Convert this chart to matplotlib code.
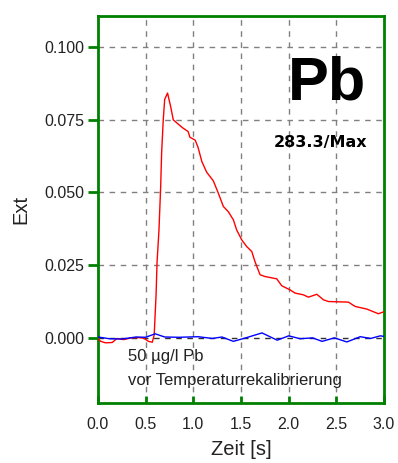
import numpy as np
import matplotlib
matplotlib.use('Agg')
import matplotlib.pyplot as plt

plt.rcParams['font.family'] = ['Liberation Sans', 'DejaVu Sans']

# Red trace: Pb signal
red_t = [0.00, 0.03, 0.08, 0.15, 0.20, 0.27, 0.35, 0.42, 0.48, 0.53, 0.57,
         0.59, 0.61, 0.62, 0.64, 0.658, 0.668, 0.685, 0.70, 0.73, 0.763,
         0.79, 0.825, 0.89, 0.945, 0.965, 1.02, 1.05, 1.09, 1.14, 1.21,
         1.262, 1.315, 1.367, 1.42, 1.455, 1.508, 1.56, 1.613, 1.647, 1.70,
         1.752, 1.875, 1.928, 2.015, 2.067, 2.155, 2.207, 2.295, 2.364,
         2.417, 2.626, 2.697, 2.82, 2.94, 3.00]
red_v = [-0.0003, -0.0012, -0.0017, -0.0016, -0.0002, -0.0006, 0.0000, 0.0001,
         -0.0001, -0.0012, -0.0015, 0.0010, 0.0150, 0.0260, 0.0370, 0.0520,
         0.0636, 0.0750, 0.0820, 0.0842, 0.0795, 0.0750, 0.0740, 0.0722,
         0.0710, 0.0690, 0.0680, 0.0655, 0.0606, 0.0570, 0.0540, 0.0498,
         0.0452, 0.0434, 0.0406, 0.0371, 0.0337, 0.0314, 0.0297, 0.0262,
         0.0217, 0.0211, 0.0203, 0.0179, 0.0165, 0.0154, 0.0148, 0.0140,
         0.0150, 0.0131, 0.0125, 0.0123, 0.0108, 0.0099, 0.0083, 0.0090]

# Blue trace: blank
blue_t = [0.00, 0.12, 0.25, 0.40, 0.50, 0.60, 0.70, 0.85, 1.05, 1.20, 1.30,
          1.42, 1.55, 1.72, 1.88, 2.00, 2.12, 2.25, 2.35, 2.48, 2.61, 2.75,
          2.86, 2.96, 3.00]
blue_v = [0.0003, -0.0003, -0.0004, 0.0003, 0.0002, 0.0014, 0.0003, 0.0002,
          0.0004, -0.0002, 0.0003, -0.0012, 0.0000, 0.0017, -0.0008, 0.0007,
          -0.0003, 0.0000, -0.0012, 0.0000, -0.0014, 0.0004, -0.0002, 0.0007,
          0.0005]

x_ticks = [0.0, 0.5, 1.0, 1.5, 2.0, 2.5, 3.0]
y_ticks = [0.000, 0.025, 0.050, 0.075, 0.100]

fig = plt.figure(figsize=(3.98, 4.63), dpi=100)
ax = fig.add_axes([0.246, 0.1296, 0.719, 0.8358])

ax.set_xlim(0, 3.0)
ax.set_ylim(-0.0224, 0.1107)

# grid
for xv in x_ticks[1:-1]:
    ax.axvline(xv, color='#808080', lw=1, ls=(0, (4, 4)), zorder=1)
for yv in y_ticks[1:]:
    ax.axhline(yv, color='#808080', lw=1, ls=(0, (4, 4)), zorder=1)
ax.axhline(0, color='#303030', lw=1, ls=(0, (4, 4)), zorder=1)

ax.plot(red_t, red_v, color='#ff0000', lw=1, zorder=3)
ax.plot(blue_t, blue_v, color='#0000ff', lw=1, zorder=3)

for s in ax.spines.values():
    s.set_color('#008000')
    s.set_linewidth(2)

ax.set_xticks(x_ticks)
ax.set_xticklabels([f'{v:.1f}' for v in x_ticks])
ax.set_yticks(y_ticks)
ax.set_yticklabels([f'{v:.3f}' for v in y_ticks])
ax.tick_params(axis='y', direction='out', length=7, width=2, color='#008000',
               labelsize=11.5, labelcolor='#222222', pad=3)
ax.tick_params(axis='x', direction='in', length=5, width=2, color='#008000',
               labelsize=11.5, labelcolor='#222222', pad=10)

ax.set_xlabel('Zeit [s]', fontsize=14.5, color='#222222', labelpad=6)
ax.set_ylabel('Ext', fontsize=14.5, color='#222222', labelpad=10)

ax.text(0.936, 0.825, 'Pb', transform=ax.transAxes, fontsize=44,
        fontweight='bold', ha='right', va='center', color='black')
ax.text(0.94, 0.672, '283.3/Max', transform=ax.transAxes, fontsize=11.5,
        fontweight='bold', ha='right', va='center', color='black',
        family='DejaVu Sans')
ax.text(0.105, 0.119, '50 µg/l Pb', transform=ax.transAxes, fontsize=12,
        ha='left', va='center', color='#222222')
ax.text(0.105, 0.059, 'vor Temperaturrekalibrierung', transform=ax.transAxes,
        fontsize=12, ha='left', va='center', color='#222222')

fig.savefig('out.png', dpi=100)
